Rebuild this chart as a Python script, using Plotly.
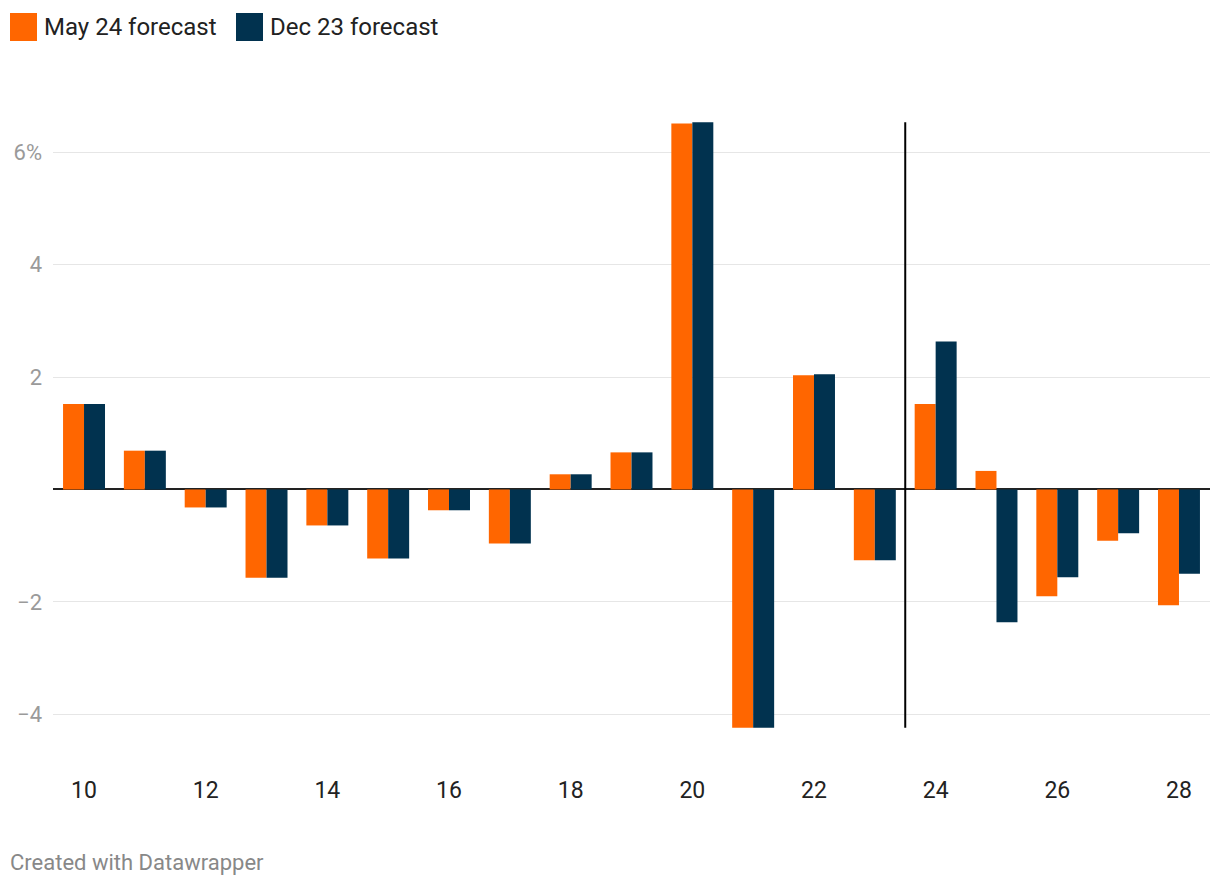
import plotly.graph_objects as go

years = list(range(10, 29))
may24 = [1.52, 0.69, -0.32, -1.57, -0.64, -1.23, -0.37, -0.96, 0.27, 0.66,
         6.51, -4.24, 2.03, -1.26, 1.52, 0.33, -1.90, -0.91, -2.06]
dec23 = [1.52, 0.69, -0.32, -1.57, -0.64, -1.23, -0.37, -0.96, 0.27, 0.66,
         6.53, -4.24, 2.05, -1.26, 2.63, -2.36, -1.56, -0.78, -1.50]
series_names = ["May 24 forecast", "Dec 23 forecast"]
colors = ["#ff6600", "#01324f"]
ytick_vals = [-4, -2, 2, 4, 6]
ytick_text = ["\u22124", "\u22122", "2", "4", "6%"]
xtick_vals = list(range(10, 29, 2))
divider_x = 23.5

FONT = "Roboto"

fig = go.Figure()
for name, vals, c in zip(series_names, [may24, dec23], colors):
    fig.add_trace(go.Bar(x=years, y=vals, name=name, marker=dict(color=c, line=dict(width=0)),
                         showlegend=False))

# page body has an 8px offset; margins compensate
fig.update_layout(
    width=1220, height=888,
    margin=dict(l=45, r=18, t=102, b=126, autoexpand=False),
    paper_bgcolor="white", plot_bgcolor="white",
    barmode="group", bargap=0.31, bargroupgap=0,
    font=dict(family=FONT, size=20, color="#333"),
)
fig.update_xaxes(range=[9.49, 28.51], tickvals=xtick_vals, showgrid=False, zeroline=False,
                 showline=False, ticks="", tickfont=dict(size=23, color="#222"),
                 ticklabelstandoff=4, automargin=False)
fig.update_yaxes(range=[-4.99, 6.75], tickvals=ytick_vals, ticktext=ytick_text,
                 showgrid=True, gridcolor="#e6e6e6", gridwidth=1,
                 zeroline=True, zerolinecolor="#222", zerolinewidth=2,
                 showline=False, ticks="", tickfont=dict(size=22, color="#9a9a9a"),
                 ticklabelstandoff=10, automargin=False)

# divider line
fig.add_shape(type="line", xref="x", yref="y", x0=divider_x, x1=divider_x,
              y0=min(may24 + dec23), y1=max(may24 + dec23),
              line=dict(color="black", width=2), layer="above")

# manual legend (page pixel -> paper coords)
W, H = 1157, 660
def px_x(p):
    return (p - 53) / W
def px_y(p):
    return (770 - p) / H

legend_x = [10, 236]
for (lx, name, c) in zip(legend_x, series_names, colors):
    fig.add_shape(type="rect", xref="paper", yref="paper",
                  x0=px_x(lx), x1=px_x(lx + 27), y0=px_y(41), y1=px_y(13),
                  fillcolor=c, line=dict(width=0))
    fig.add_annotation(xref="paper", yref="paper", x=px_x(lx + 32), y=px_y(27),
                       text=name, showarrow=False, xanchor="left", yanchor="middle",
                       font=dict(family=FONT, size=24, color="#222"))

fig.add_annotation(xref="paper", yref="paper", x=px_x(8), y=px_y(862),
                   text="Created with Datawrapper", showarrow=False,
                   xanchor="left", yanchor="middle",
                   font=dict(family=FONT, size=22, color="#888"))

fig.write_html("out.html")
